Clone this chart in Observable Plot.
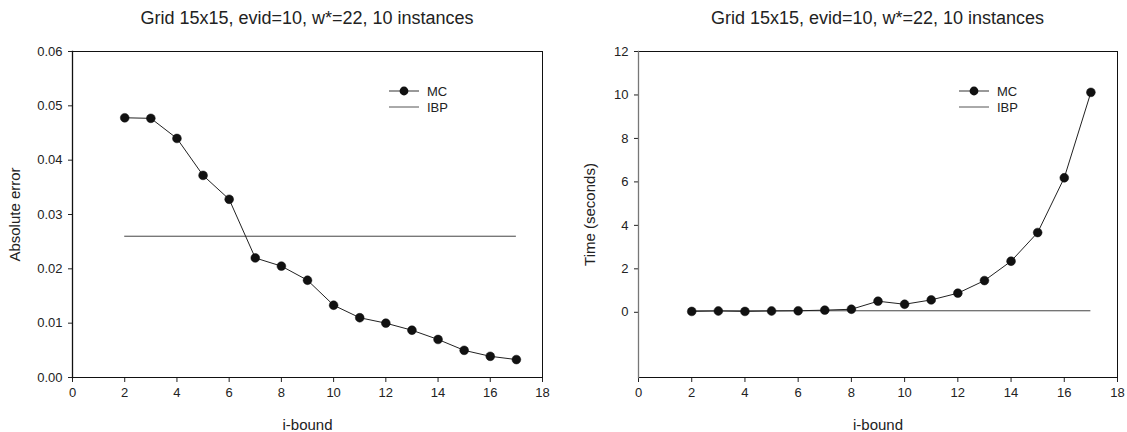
<!DOCTYPE html>
<html>
<head>
<meta charset="utf-8">
<script src="https://cdn.jsdelivr.net/npm/d3@7"></script>
<script src="https://cdn.jsdelivr.net/npm/@observablehq/plot@0.6"></script>
<style>
  html, body { margin: 0; padding: 0; background: #fff; }
  #wrap { position: relative; width: 1127px; height: 432px; font-family: "Liberation Sans", Arial, sans-serif; }
  .panel { position: absolute; top: 0; }
  .title { position: absolute; top: 8px; font-size: 18px; color: #222; text-align: center; white-space: nowrap; }
  svg { display: block; }
</style>
</head>
<body>
<div id="wrap"></div>
<script>
// ---- data ----
const titleText = "Grid 15x15, evid=10, w*=22, 10 instances";
const iBound = [2, 3, 4, 5, 6, 7, 8, 9, 10, 11, 12, 13, 14, 15, 16, 17];
const mcError = [0.0478, 0.0477, 0.0440, 0.0372, 0.0328, 0.0220, 0.0205, 0.0179, 0.0133, 0.0110, 0.0100, 0.0087, 0.0070, 0.0050, 0.0039, 0.0033];
const ibpError = 0.0260;
const mcTime = [0.04, 0.06, 0.04, 0.06, 0.07, 0.10, 0.14, 0.51, 0.37, 0.57, 0.88, 1.46, 2.35, 3.67, 6.19, 10.12];
const ibpTime = 0.07;
const xTicks = [0, 2, 4, 6, 8, 10, 12, 14, 16, 18];
const errTicks = [0, 0.01, 0.02, 0.03, 0.04, 0.05, 0.06];
const timeTicks = [0, 2, 4, 6, 8, 10, 12];
const legendLabels = ["MC", "IBP"];

const FONT = "Liberation Sans, Arial, sans-serif";
const wrap = document.getElementById("wrap");

function makePanel({left, width, marginLeft, marginRight, yDomain, yTicks, yFormat, yLabel, yLabelOffset, values, ibp, legendX, leftAxisColor}) {
  const rows = iBound.map((x, i) => ({x, y: values[i]}));
  const plot = Plot.plot({
    width, height: 432,
    marginLeft, marginRight, marginTop: 51, marginBottom: 55,
    style: {fontFamily: FONT, fontSize: "13px", color: "#222", background: "#fff", overflow: "visible"},
    x: {domain: [0, 18], ticks: xTicks},
    y: {domain: yDomain, ticks: yTicks},
    marks: [
      Plot.axisX({ticks: xTicks, tickSize: 5, tickPadding: 5, tickFormat: d => String(d), fontSize: 13,
        label: "i-bound", labelAnchor: "center", labelArrow: "none", labelOffset: 52, stroke: "#222"}),
      Plot.axisY({ticks: yTicks, tickSize: 4, tickPadding: 6, tickFormat: yFormat, fontSize: 13,
        label: yLabel, labelAnchor: "center", labelArrow: "none", labelOffset: yLabelOffset, stroke: "#222"}),
      Plot.frame({stroke: "#111", strokeWidth: 1}),
      Plot.frame({anchor: "left", stroke: leftAxisColor, strokeWidth: 1.3}),
      Plot.ruleY([ibp], {x1: iBound[0], x2: iBound[iBound.length - 1], stroke: "#444", strokeWidth: 1}),
      Plot.line(rows, {x: "x", y: "y", stroke: "#222", strokeWidth: 1}),
      Plot.dot(rows, {x: "x", y: "y", r: 4.4, fill: "#111", stroke: "#111", strokeWidth: 0.5})
    ]
  });
  d3.select(plot).selectAll("[aria-label='x-axis label'] text, [aria-label='y-axis label'] text").style("font-size", "15px");

  // legend drawn inside the SVG
  const svg = d3.select(plot);
  const g = svg.append("g").attr("font-family", FONT).attr("font-size", 13).attr("fill", "#222").attr("text-anchor", "start");
  const lx = legendX, y1 = 91, y2 = 107;
  g.append("line").attr("x1", lx).attr("x2", lx + 30).attr("y1", y1).attr("y2", y1).attr("stroke", "#555").attr("stroke-width", 1.2);
  g.append("circle").attr("cx", lx + 15).attr("cy", y1).attr("r", 4.4).attr("fill", "#111");
  g.append("text").attr("x", lx + 38).attr("y", y1).attr("dy", "0.35em").attr("text-anchor", "start").text(legendLabels[0]);
  g.append("line").attr("x1", lx).attr("x2", lx + 30).attr("y1", y2).attr("y2", y2).attr("stroke", "#555").attr("stroke-width", 1);
  g.append("text").attr("x", lx + 38).attr("y", y2).attr("dy", "0.35em").attr("text-anchor", "start").text(legendLabels[1]);

  const panel = document.createElement("div");
  panel.className = "panel";
  panel.style.left = left + "px";
  panel.style.width = width + "px";
  panel.appendChild(plot);
  const t = document.createElement("div");
  t.className = "title";
  t.textContent = titleText;
  t.style.left = marginLeft + "px";
  t.style.width = (width - marginLeft - marginRight) + "px";
  panel.appendChild(t);
  wrap.appendChild(panel);
}

makePanel({
  left: 0, width: 563, marginLeft: 72, marginRight: 21,
  yDomain: [0, 0.06], yTicks: errTicks, yFormat: d3.format(".2f"),
  yLabel: "Absolute error", yLabelOffset: 63, values: mcError, ibp: ibpError, legendX: 389, leftAxisColor: "#111"
});
makePanel({
  left: 563, width: 564, marginLeft: 75, marginRight: 10,
  yDomain: [-3, 12], yTicks: timeTicks, yFormat: d => String(d),
  yLabel: "Time (seconds)", yLabelOffset: 54, values: mcTime, ibp: ibpTime, legendX: 959 - 563, leftAxisColor: "#777"
});
</script>
</body>
</html>
